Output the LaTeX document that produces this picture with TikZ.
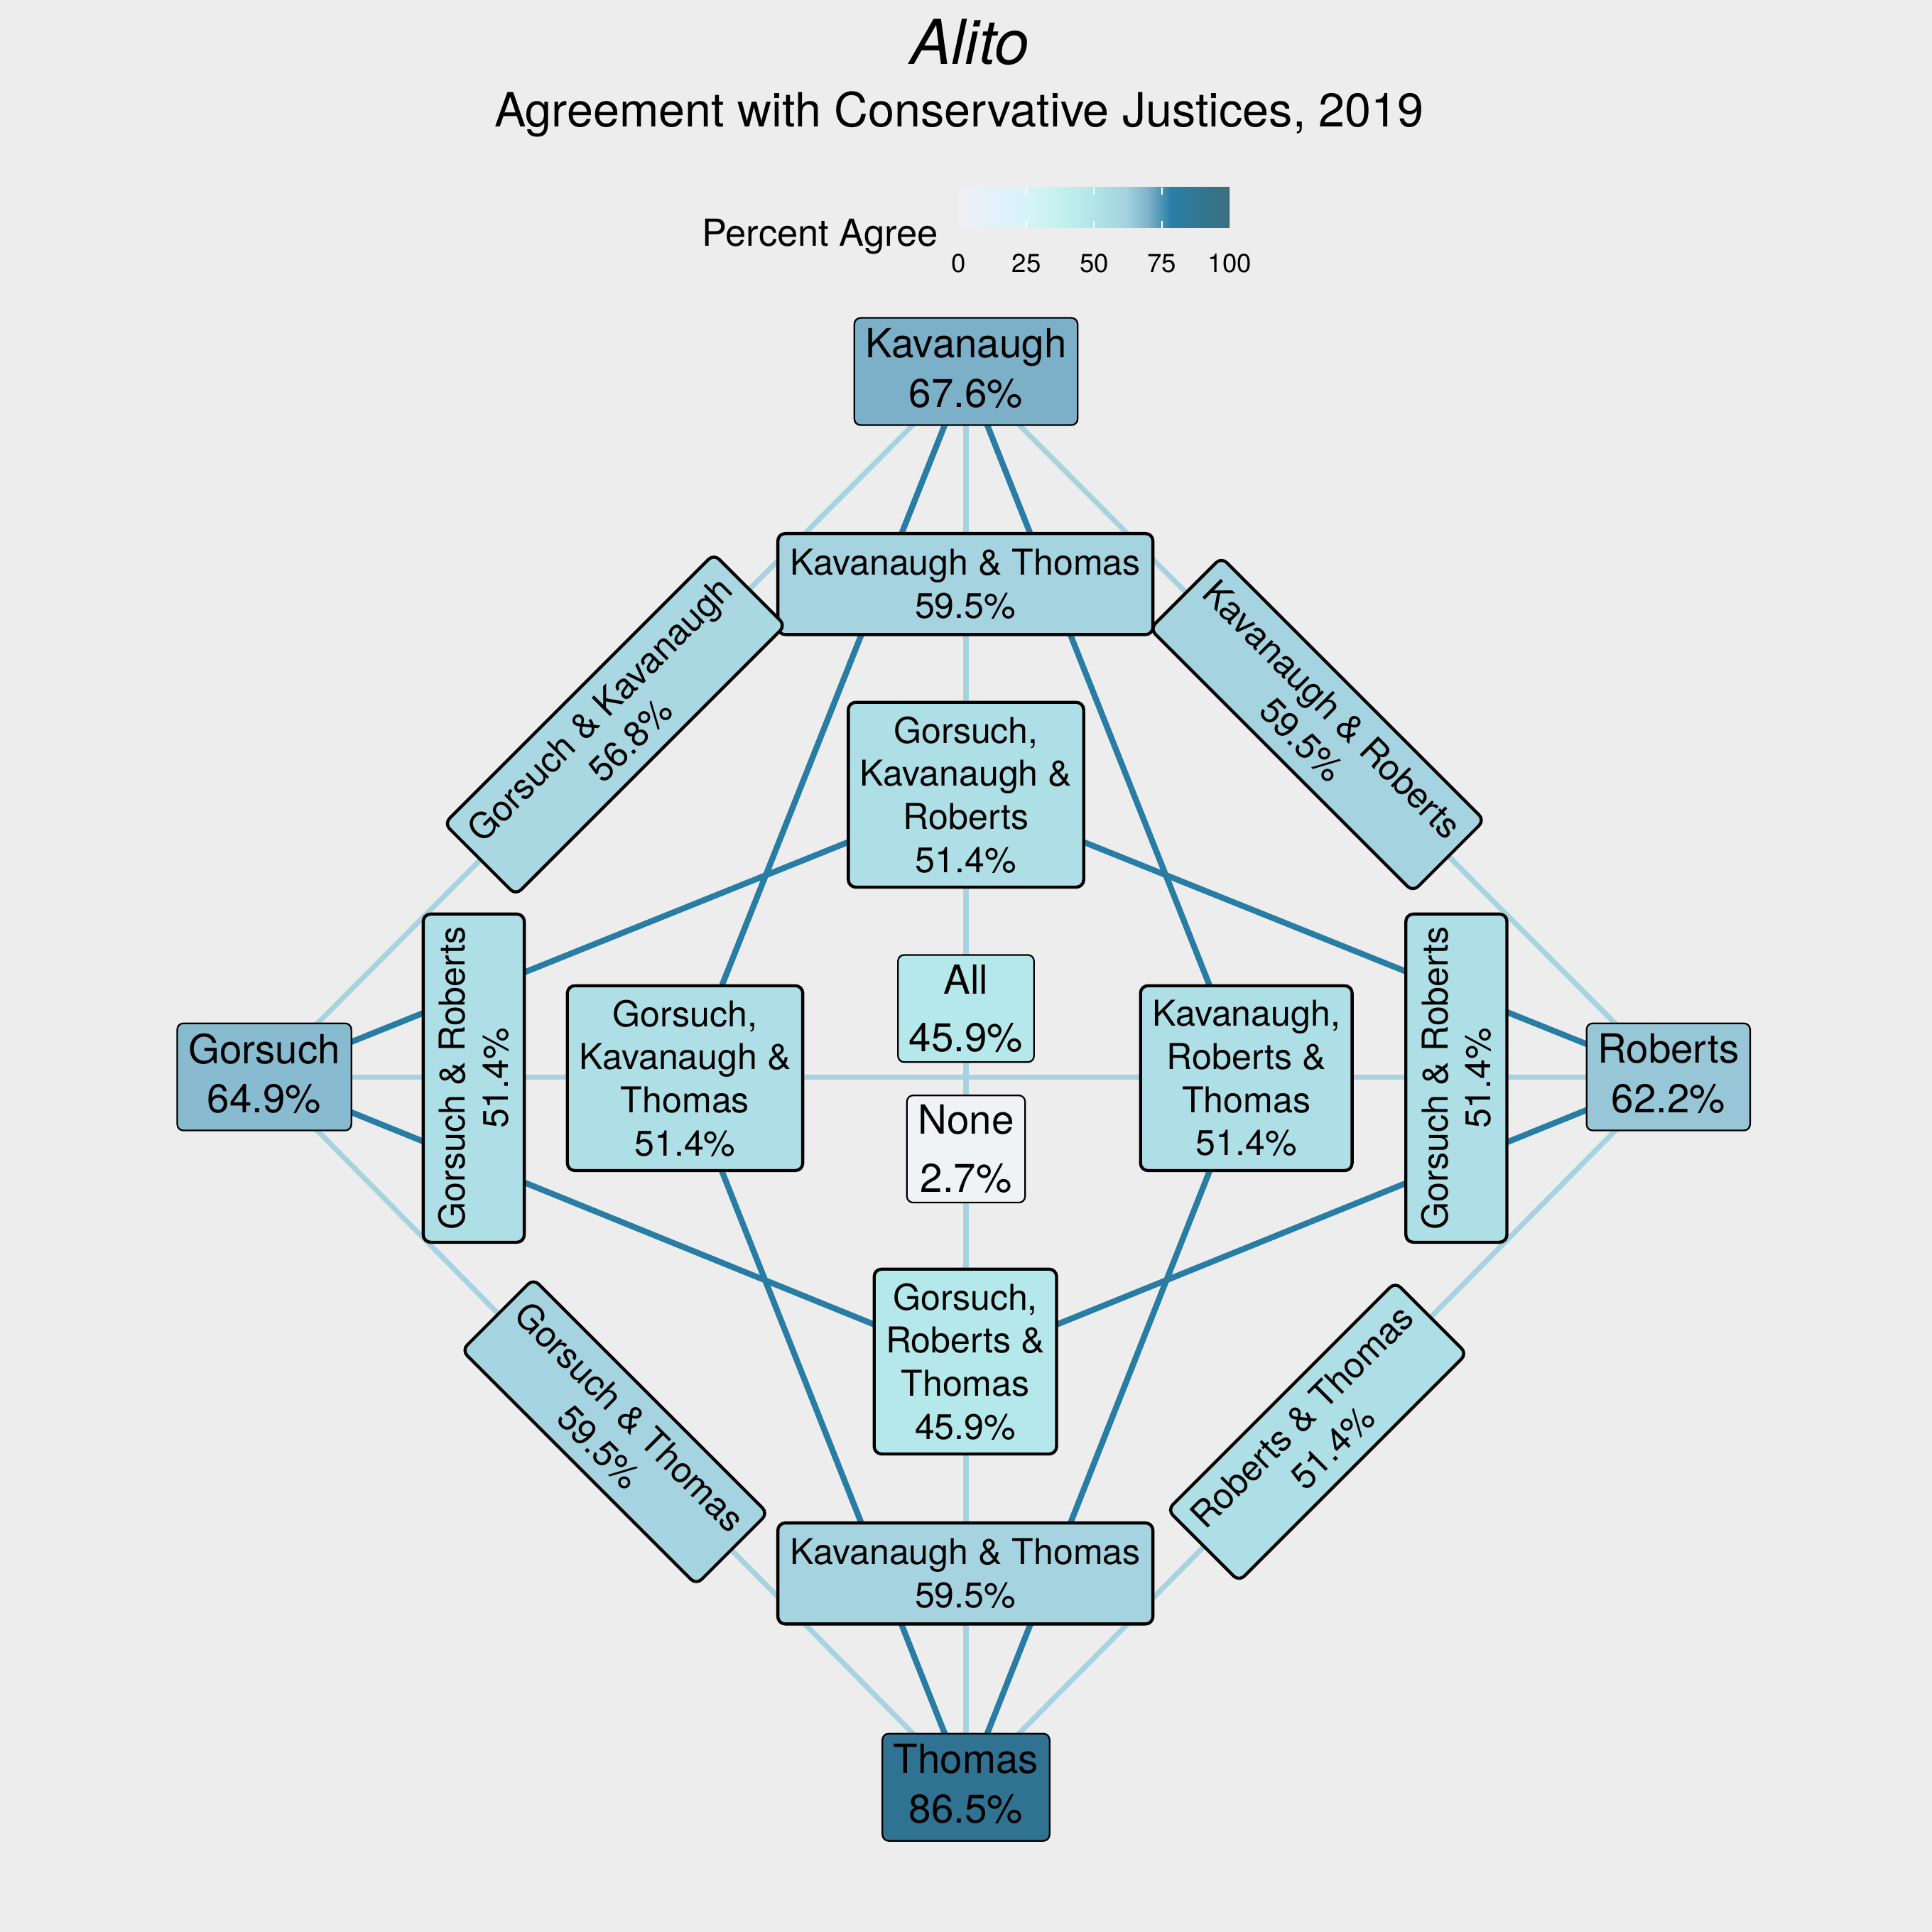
\documentclass[tikz,border=0pt]{standalone}
\usepackage{fontspec}
\setmainfont{TeX Gyre Heros}
\usetikzlibrary{calc}
\pgfdeclarelayer{back}
\pgfdeclarelayer{edges}
\pgfsetlayers{back,edges,main}
\definecolor{bgc}{HTML}{EDEDED}
\definecolor{lightln}{HTML}{A7D3E0}
\definecolor{darkln}{HTML}{277DA3}
\definecolor{cK}{HTML}{7BB0C8}
\definecolor{cG}{HTML}{89BBD0}
\definecolor{cR}{HTML}{97C6D6}
\definecolor{cT}{HTML}{2F7291}
\definecolor{cP595}{HTML}{A5D4E0}
\definecolor{cP568}{HTML}{A9D8E2}
\definecolor{cP514}{HTML}{AEDFE6}
\definecolor{cP459}{HTML}{B4E8EA}
\definecolor{cNone}{HTML}{F0F3F6}
\definecolor{g0}{HTML}{EFF0F3}
\definecolor{g15}{HTML}{E0F2FC}
\definecolor{g25}{HTML}{D6F4F8}
\definecolor{g40}{HTML}{BEF0EE}
\definecolor{g50}{HTML}{B0E4E7}
\definecolor{g62}{HTML}{A3D1DF}
\definecolor{g70}{HTML}{7DB3CA}
\definecolor{g78}{HTML}{2A7FA6}
\definecolor{g100}{HTML}{3C6E7F}
\begin{document}
\begin{tikzpicture}[x=0.1mm,y=-0.1mm,
  base/.style={rectangle, draw=black, align=center, inner ysep=0pt},
  justice/.style={base, rounded corners=0.5mm, line width=0.13mm, font=\fontsize{9.27}{11.4}\selectfont, minimum height=8.7mm, inner xsep=0.9mm, text depth=0.6mm},
  pairbox/.style={base, rounded corners=0.6mm, line width=0.25mm, font=\fontsize{8.22}{9.96}\selectfont, minimum height=8.2mm, inner xsep=1mm},
  triplebox/.style={pairbox, minimum height=15mm, inner xsep=0.95mm},
  allnone/.style={base, rounded corners=0.5mm, line width=0.13mm, font=\fontsize{9.27}{13.4}\selectfont, minimum height=8.7mm, inner xsep=0.9mm},
  lightedge/.style={draw=lightln, line width=0.42mm},
  darkedge/.style={draw=darkln, line width=0.48mm},
  tickw/.style={draw=white, line width=0.12mm},
  leglabel/.style={anchor=base, font=\fontsize{6}{7}\selectfont},
]
\begin{pgfonlayer}{back}
\fill[bgc] (0,0) rectangle (1568,1568);
\end{pgfonlayer}
\useasboundingbox (0,0) rectangle (1568,1568);

% titles
\node[anchor=base, font=\fontsize{14.3}{17}\selectfont\itshape] (title) at (787,52) {Alito};
\node[anchor=base, font=\fontsize{10.9}{13}\selectfont] (subtitle) at (778.5,103) {Agreement with Conservative Justices, 2019};

% legend
\node[anchor=base east, inner sep=0pt, font=\fontsize{8.6}{10}\selectfont] (legtitle) at (762,200) {Percent Agree};
\shade[left color=g0, right color=g15] (778,152) rectangle (811.5,185);
\shade[left color=g15, right color=g25] (811,152) rectangle (833.5,185);
\shade[left color=g25, right color=g40] (833,152) rectangle (866.5,185);
\shade[left color=g40, right color=g50] (866,152) rectangle (888.5,185);
\shade[left color=g50, right color=g62] (888,152) rectangle (914.9,185);
\shade[left color=g62, right color=g70] (914.4,152) rectangle (932.5,185);
\shade[left color=g70, right color=g78] (932,152) rectangle (950.1,185);
\shade[left color=g78, right color=g100] (949.6,152) rectangle (998,185);
\foreach \xx in {833,888,943}{
  \draw[tickw] (\xx,152) -- (\xx,158);
  \draw[tickw] (\xx,179) -- (\xx,185);
}
\node[leglabel] (l0) at (778,221) {0};
\node[leglabel] (l25) at (833,221) {25};
\node[leglabel] (l50) at (888,221) {50};
\node[leglabel] (l75) at (943,221) {75};
\node[leglabel] (l100) at (998,221) {100};

% justices
\node[justice, fill=cK] (K) at (784,301.5) {Kavanaugh\\67.6\%};
\node[justice, fill=cG] (G) at (214.5,874) {Gorsuch\\64.9\%};
\node[justice, fill=cR] (R) at (1354,874) {Roberts\\62.2\%};
\node[justice, fill=cT] (T) at (784,1450.5) {Thomas\\86.5\%};

% pairs
\node[pairbox, fill=cP595] (KT1) at (783.5,474) {Kavanaugh \& Thomas\\59.5\%};
\node[pairbox, fill=cP595] (KT2) at (783.5,1277) {Kavanaugh \& Thomas\\59.5\%};
\node[pairbox, fill=cP514, rotate=90] (GR1) at (384.5,875) {Gorsuch \& Roberts\\51.4\%};
\node[pairbox, fill=cP514, rotate=90] (GR2) at (1182,875) {Gorsuch \& Roberts\\51.4\%};
\node[pairbox, fill=cP568, rotate=45] (GK) at (499,588) {Gorsuch \& Kavanaugh\\56.8\%};
\node[pairbox, fill=cP595, rotate=-45] (KR) at (1069,588) {Kavanaugh \& Roberts\\59.5\%};
\node[pairbox, fill=cP595, rotate=-45] (GT) at (499,1162) {Gorsuch \& Thomas\\59.5\%};
\node[pairbox, fill=cP514, rotate=45] (RT) at (1069,1162) {Roberts \& Thomas\\51.4\%};

% triples
\node[triplebox, fill=cP514] (GKR) at (784,645) {Gorsuch,\\Kavanaugh \&\\Roberts\\51.4\%};
\node[triplebox, fill=cP514] (GKT) at (556,875) {Gorsuch,\\Kavanaugh \&\\Thomas\\51.4\%};
\node[triplebox, fill=cP514] (KRT) at (1011.5,875) {Kavanaugh,\\Roberts \&\\Thomas\\51.4\%};
\node[triplebox, fill=cP459] (GRT) at (783.5,1105) {Gorsuch,\\Roberts \&\\Thomas\\45.9\%};

% all / none
\node[allnone, fill=cP459] (All) at (784,818.5) {All\\45.9\%};
\node[allnone, fill=cNone] (None) at (784,932.5) {None\\2.7\%};

% edges
\begin{pgfonlayer}{edges}
\draw[lightedge] (K.center) -- (G.center);
\draw[lightedge] (K.center) -- (R.center);
\draw[lightedge] (G.center) -- (T.center);
\draw[lightedge] (R.center) -- (T.center);
\draw[lightedge] (K.center) -- (T.center);
\draw[lightedge] (G.center) -- (R.center);
\draw[darkedge] (G.center) -- (GKR.center);
\draw[darkedge] (GKR.center) -- (R.center);
\draw[darkedge] (G.center) -- (GRT.center);
\draw[darkedge] (GRT.center) -- (R.center);
\draw[darkedge] (K.center) -- (GKT.center);
\draw[darkedge] (GKT.center) -- (T.center);
\draw[darkedge] (K.center) -- (KRT.center);
\draw[darkedge] (KRT.center) -- (T.center);
\end{pgfonlayer}
\end{tikzpicture}
\end{document}
